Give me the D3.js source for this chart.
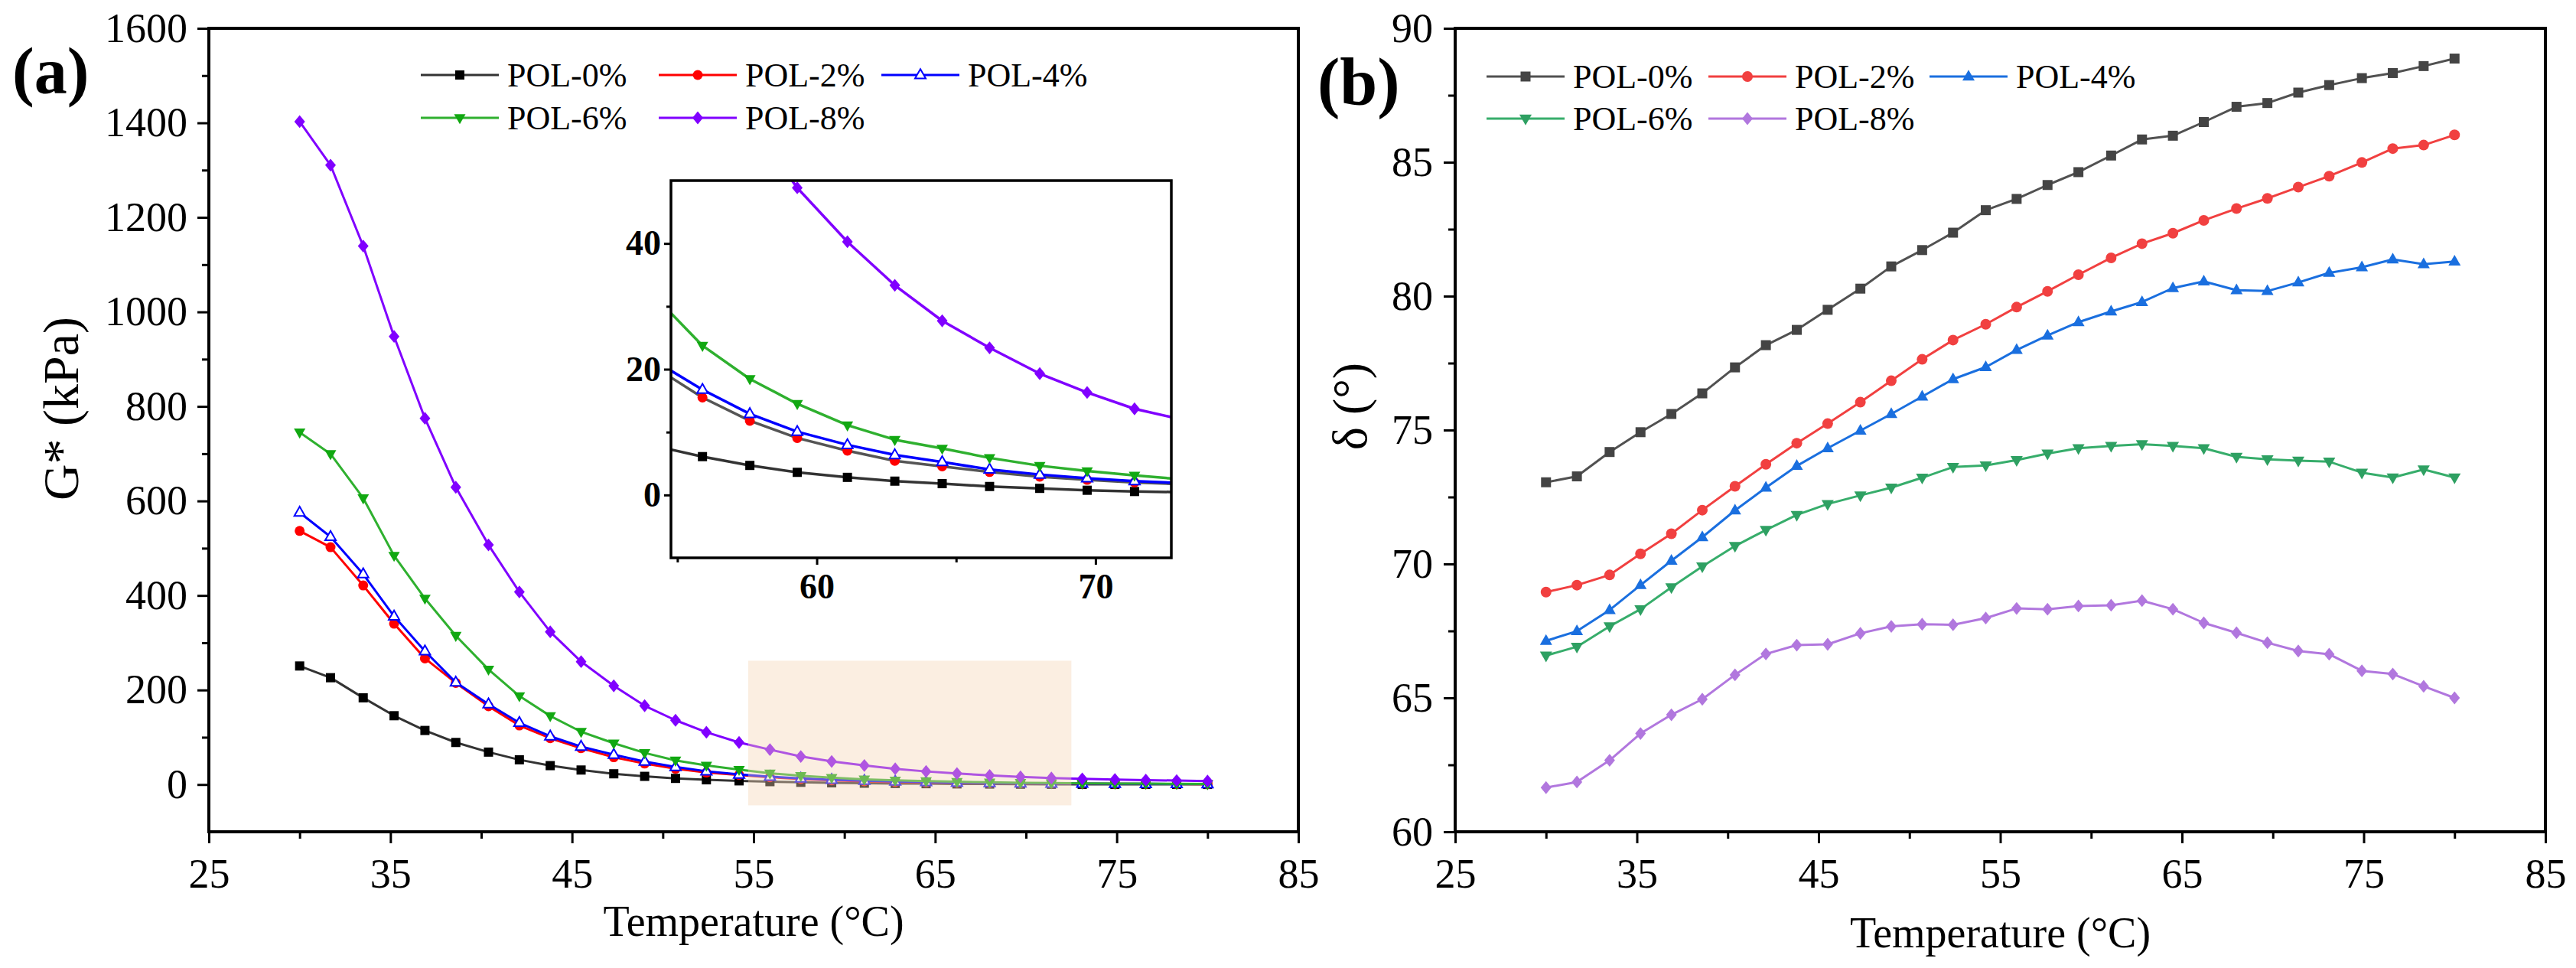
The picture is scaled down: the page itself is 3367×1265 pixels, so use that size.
<!DOCTYPE html>
<html>
<head>
<meta charset="utf-8">
<script src="https://cdn.jsdelivr.net/npm/d3@7"></script>
<style>
body{margin:0;background:#fff;}
text{font-family:"Liberation Serif","Times New Roman",serif;fill:#000;}
</style>
</head>
<body>
<svg id="chart"></svg>
<script>
// ---- data ----
var temps = [30.0,31.7,33.5,35.2,36.9,38.6,40.4,42.1,43.8,45.5,47.3,49.0,50.7,52.4,54.2,
             55.9,57.6,59.3,61.1,62.8,64.5,66.2,68.0,69.7,71.4,73.1,74.9,76.6,78.3,80.0];

var names = ['POL-0%','POL-2%','POL-4%','POL-6%','POL-8%'];

// (a) G* in kPa
var g0 = [250.8,226,183.5,145.6,114.4,89,68.6,52.4,40,30.7,22.7,17.3,13,10,7.8,
          6.1,4.7,3.6,2.8,2.2,1.8,1.35,1.05,0.75,0.55,0.45,0.35,0.3,0.25,0.2];
var g2 = [536.6,502.1,421.2,340.3,266.8,215,165.7,125,98,76.7,57.8,44.3,33.5,25.4,20.3,
          15.5,11.8,9.06,7.04,5.43,4.55,3.65,2.9,2.4,2.0,1.7,1.45,1.25,1.05,0.9];
var g4 = [575.6,524.1,445.1,356,282,216,169.9,130.6,102,80.4,63.1,48.5,37.2,28.1,21.3,
          16.75,12.9,10.07,7.97,6.36,5.25,4.05,3.25,2.65,2.2,1.9,1.6,1.4,1.2,1.0];
var g6 = [745.3,699.5,606,484.3,393.7,314.9,243.5,187.2,145.1,111.7,87.4,66.9,51.1,40.4,31.5,
          23.75,18.45,14.5,11.1,8.78,7.4,5.9,4.65,3.8,3.1,2.5,2.1,1.8,1.5,1.3];
var g8 = [1402.6,1310.5,1139.3,948,774.8,629,507,407.4,323.1,260,208.8,166.7,136,110.6,89,
          73.9,59.4,48.85,40.27,33.35,27.7,23.4,19.3,16.3,13.7,12.0,10.6,9.4,8.3,7.3];

// (b) phase angle in degrees
var d0 = [73.05,73.27,74.18,74.92,75.6,76.37,77.34,78.17,78.74,79.49,80.28,81.11,81.72,82.37,83.21,
          83.63,84.15,84.63,85.25,85.85,85.99,86.5,87.07,87.21,87.6,87.88,88.14,88.33,88.59,88.87];
var d2 = [68.95,69.21,69.59,70.38,71.13,72.01,72.9,73.72,74.51,75.24,76.04,76.84,77.64,78.36,78.95,
          79.59,80.18,80.8,81.43,81.96,82.35,82.83,83.27,83.65,84.07,84.48,84.99,85.51,85.64,86.02];
var d4 = [67.13,67.49,68.28,69.21,70.12,71.0,72.0,72.85,73.66,74.32,74.98,75.6,76.25,76.9,77.35,
          77.99,78.53,79.03,79.43,79.78,80.3,80.55,80.22,80.19,80.51,80.87,81.08,81.37,81.19,81.29];
var d6 = [66.58,66.91,67.67,68.31,69.13,69.91,70.67,71.27,71.83,72.24,72.56,72.85,73.22,73.62,73.68,
          73.88,74.12,74.32,74.41,74.47,74.41,74.32,74.0,73.91,73.86,73.82,73.41,73.23,73.53,73.23];
var d8 = [61.65,61.86,62.67,63.67,64.37,64.95,65.86,66.64,66.97,67.0,67.41,67.67,67.75,67.73,67.98,
          68.34,68.31,68.43,68.46,68.63,68.31,67.8,67.43,67.06,66.75,66.63,66.01,65.89,65.43,65.0];

// axis ticks
var xTicks = [25,35,45,55,65,75,85];
var xMinor = [30,40,50,60,70,80];
var yTicksA = [0,200,400,600,800,1000,1200,1400,1600];
var yMinorA = [100,300,500,700,900,1100,1300,1500];
var yTicksB = [60,65,70,75,80,85,90];
var yMinorB = [62.5,67.5,72.5,77.5,82.5,87.5];
var inXTicks = [60,70], inXMinor = [55,65];
var inYTicks = [0,20,40], inYMinor = [10,30];
var zoomBox = {x:[54.7,72.5], y:[-44,262]};

// ---- styles ----
var W = 3367, H = 1265;
var FONT = '"Liberation Serif","Times New Roman",serif';
var stylesA = [
  {line:'#333333', fill:'#000000', stroke:'none', shape:'square', s:6},
  {line:'#ff0000', fill:'#ff0000', stroke:'none', shape:'circle', s:6.5},
  {line:'#0000ff', fill:'#ffffff', stroke:'#0000ff', shape:'up', s:7},
  {line:'#2fb02f', fill:'#11a811', stroke:'none', shape:'down', s:7.5},
  {line:'#8000ff', fill:'#8000ff', stroke:'none', shape:'diamond', s:7}
];
var stylesB = [
  {line:'#515151', fill:'#444444', stroke:'none', shape:'square', s:6.5},
  {line:'#F14040', fill:'#F14040', stroke:'none', shape:'circle', s:7},
  {line:'#1A6FDF', fill:'#1A6FDF', stroke:'none', shape:'up', s:8},
  {line:'#37AD6B', fill:'#2ea062', stroke:'none', shape:'down', s:8},
  {line:'#B177DE', fill:'#B177DE', stroke:'none', shape:'diamond', s:7}
];

function markerPath(shape, s){
  switch(shape){
    case 'square': return 'M'+(-s)+','+(-s)+'H'+s+'V'+s+'H'+(-s)+'Z';
    case 'circle': return 'M'+s+',0A'+s+','+s+' 0 1,1 '+(-s)+',0A'+s+','+s+' 0 1,1 '+s+',0Z';
    case 'up': return 'M0,'+(-s*1.1)+'L'+s+','+(s*0.65)+'L'+(-s)+','+(s*0.65)+'Z';
    case 'down': return 'M0,'+(s*1.1)+'L'+s+','+(-s*0.65)+'L'+(-s)+','+(-s*0.65)+'Z';
    case 'diamond': return 'M0,'+(-s*1.2)+'L'+s+',0L0,'+(s*1.2)+'L'+(-s)+',0Z';
  }
}

var svg = d3.select('#chart').attr('width',W).attr('height',H);
svg.append('rect').attr('width',W).attr('height',H).attr('fill','#fff');

// ---- scales ----
var xA = d3.scaleLinear().domain([25,85]).range([273,1697]);
var yA = d3.scaleLinear().domain([-100,1600]).range([1087,37]);
var xB = d3.scaleLinear().domain([25,85]).range([1902,3327]);
var yB = d3.scaleLinear().domain([60,90]).range([1087,37]);
var xI = d3.scaleLinear().domain([54.77,72.72]).range([877,1531]);
var yI = d3.scaleLinear().domain([-10,50]).range([729,236]);

function drawSeries(g, x, y, vals, st, lw, lineColor){
  var pts = d3.zip(temps, vals);
  g.append('path').datum(pts)
    .attr('fill','none')
    .attr('stroke', lineColor || st.line)
    .attr('stroke-width', lw)
    .attr('stroke-linejoin','round')
    .attr('d', d3.line().x(function(d){return x(d[0]);}).y(function(d){return y(d[1]);}));
  g.selectAll(null).data(pts).enter().append('path')
    .attr('transform', function(d){return 'translate('+x(d[0])+','+y(d[1])+')';})
    .attr('d', markerPath(st.shape, st.s))
    .attr('fill', st.fill)
    .attr('stroke', st.stroke)
    .attr('stroke-width', st.stroke==='none' ? 0 : 2);
}

function styleAxis(sel, fs, bold){
  sel.attr('font-family', FONT);
  sel.select('.domain').remove();
  sel.selectAll('line').attr('stroke','#000').attr('stroke-width',3);
  sel.selectAll('text').attr('font-size',fs).attr('font-weight', bold ? 'bold' : 'normal')
     .attr('font-family', FONT).style('font-family', FONT);
}

function drawFrame(g, x, y, xt, xm, yt, ym, fs, bold, sz, lw){
  var x0 = x.range()[0], y0 = y.range()[0];
  var ax = g.append('g').attr('transform','translate(0,'+y0+')')
    .call(d3.axisBottom(x).tickValues(xt).tickSize(sz.maj).tickPadding(sz.xpad).tickFormat(d3.format('d')));
  styleAxis(ax, fs, bold);
  var axm = g.append('g').attr('transform','translate(0,'+y0+')')
    .call(d3.axisBottom(x).tickValues(xm).tickSize(sz.min).tickFormat(''));
  styleAxis(axm, fs, bold);
  var ay = g.append('g').attr('transform','translate('+x0+',0)')
    .call(d3.axisLeft(y).tickValues(yt).tickSize(sz.maj).tickPadding(sz.ypad).tickFormat(d3.format('d')));
  styleAxis(ay, fs, bold);
  var aym = g.append('g').attr('transform','translate('+x0+',0)')
    .call(d3.axisLeft(y).tickValues(ym).tickSize(sz.min).tickFormat(''));
  styleAxis(aym, fs, bold);
  g.append('rect')
    .attr('x', x.range()[0]).attr('y', y.range()[1])
    .attr('width', x.range()[1]-x.range()[0]).attr('height', y.range()[0]-y.range()[1])
    .attr('fill','none').attr('stroke','#000').attr('stroke-width',lw);
}

function drawLegend(g, styles, cols, rows){
  names.forEach(function(n,i){
    var cx = cols[i%3], cy = rows[Math.floor(i/3)], st = styles[i];
    g.append('line').attr('x1',cx).attr('x2',cx+102).attr('y1',cy).attr('y2',cy)
      .attr('stroke',st.line).attr('stroke-width',3);
    g.append('path').attr('transform','translate('+(cx+51)+','+cy+')')
      .attr('d', markerPath(st.shape, st.s))
      .attr('fill', st.fill).attr('stroke', st.stroke)
      .attr('stroke-width', st.stroke==='none' ? 0 : 2);
    g.append('text').attr('x',cx+113).attr('y',cy+15).attr('font-size',44)
      .attr('font-family', FONT).text(n);
  });
}

// ================= panel (a) =================
var pa = svg.append('g');
[g0,g2,g4,g6,g8].forEach(function(v,i){ drawSeries(pa, xA, yA, v, stylesA[i], 3); });

// highlighted zoom window (translucent, drawn over the curves)
pa.append('rect')
  .attr('x', xA(zoomBox.x[0])).attr('y', yA(zoomBox.y[1]))
  .attr('width', xA(zoomBox.x[1])-xA(zoomBox.x[0]))
  .attr('height', yA(zoomBox.y[0])-yA(zoomBox.y[1]))
  .attr('fill','rgb(246,212,180)').attr('fill-opacity',0.4);

drawFrame(pa, xA, yA, xTicks, xMinor, yTicksA, yMinorA, 54, false,
  {maj:15, min:9, xpad:20, ypad:13}, 4);

drawLegend(pa, stylesA, [550,861,1152], [98,154]);

// inset
var ins = svg.append('g');
ins.append('rect').attr('x',877).attr('y',236).attr('width',1531-877).attr('height',729-236).attr('fill','#fff');
svg.append('clipPath').attr('id','inclip').append('rect')
  .attr('x',877).attr('y',236).attr('width',1531-877).attr('height',729-236);
var insData = ins.append('g').attr('clip-path','url(#inclip)');
[g0,g2,g4,g6,g8].forEach(function(v,i){
  drawSeries(insData, xI, yI, v, stylesA[i], 3.5, i===1 ? '#555555' : null);
});
drawFrame(ins, xI, yI, inXTicks, inXMinor, inYTicks, inYMinor, 46, true,
  {maj:9, min:6, xpad:11, ypad:4}, 3.5);

// titles (a)
pa.append('text').attr('x',(273+1697)/2).attr('y',1223).attr('text-anchor','middle')
  .attr('font-size',56).attr('font-family', FONT).text('Temperature (°C)');
pa.append('text').attr('transform','translate(102,534) rotate(-90)').attr('text-anchor','middle')
  .attr('font-size',66).attr('font-family', FONT).text('G* (kPa)');
pa.append('text').attr('x',16).attr('y',122).attr('font-size',86).attr('font-weight','bold')
  .attr('font-family', FONT).text('(a)');

// ================= panel (b) =================
var pb = svg.append('g');
[d0,d2,d4,d6,d8].forEach(function(v,i){ drawSeries(pb, xB, yB, v, stylesB[i], 3); });
drawFrame(pb, xB, yB, xTicks, xMinor, yTicksB, yMinorB, 54, false,
  {maj:15, min:9, xpad:20, ypad:14}, 4);
drawLegend(pb, stylesB, [1943,2233,2522], [100,155]);

pb.append('text').attr('x',(1902+3327)/2).attr('y',1238).attr('text-anchor','middle')
  .attr('font-size',56).attr('font-family', FONT).text('Temperature (°C)');
pb.append('text').attr('transform','translate(1786,531) rotate(-90)').attr('text-anchor','middle')
  .attr('font-size',64).attr('font-family', FONT).text('δ (°)');
pb.append('text').attr('x',1722).attr('y',137).attr('font-size',88).attr('font-weight','bold')
  .attr('font-family', FONT).text('(b)');
</script>
</body>
</html>
